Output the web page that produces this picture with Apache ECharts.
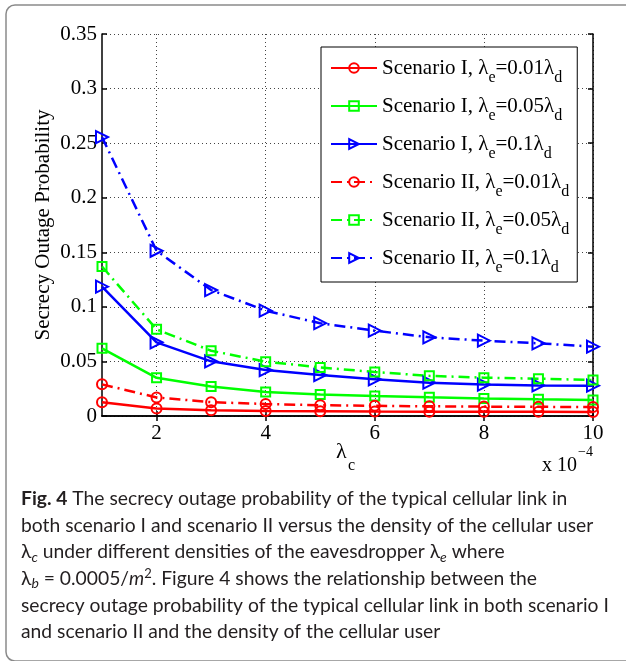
<!DOCTYPE html>
<html>
<head>
<meta charset="utf-8">
<script src="https://cdn.jsdelivr.net/npm/echarts@6/dist/echarts.min.js"></script>
<style>
  html, body { margin: 0; padding: 0; background: #fff; }
  #chart { width: 626px; height: 661px; }
</style>
</head>
<body>
<div id="chart"></div>
<script>
// Density of cellular users (x 10^-4)
const lambdaC = [1, 2, 3, 4, 5, 6, 7, 8, 9, 10];

// Secrecy outage probability, scenario I
const s1_e001 = [0.0125, 0.0068, 0.0053, 0.0046, 0.0043, 0.0041, 0.0040, 0.0039, 0.0038, 0.0037];
const s1_e005 = [0.0620, 0.0350, 0.0270, 0.0220, 0.0198, 0.0183, 0.0171, 0.0160, 0.0153, 0.0147];
const s1_e01  = [0.1185, 0.0675, 0.0501, 0.0421, 0.0375, 0.0336, 0.0305, 0.0288, 0.0280, 0.0278];

// Secrecy outage probability, scenario II
const s2_e001 = [0.0290, 0.0170, 0.0127, 0.0110, 0.0099, 0.0093, 0.0089, 0.0086, 0.0084, 0.0082];
const s2_e005 = [0.1370, 0.0794, 0.0598, 0.0498, 0.0445, 0.0403, 0.0368, 0.0351, 0.0342, 0.0330];
const s2_e01  = [0.2556, 0.1514, 0.1154, 0.0965, 0.0850, 0.0782, 0.0721, 0.0690, 0.0666, 0.0635];

// Axis ticks
const xTicks = [2, 4, 6, 8, 10];
const yMin = 0, yMax = 0.35, yStep = 0.05;

// Legend labels (rich text with subscripts)
const legendLabels = [
  'Scenario I, λ{sub|e}=0.01λ{sub|d}',
  'Scenario I, λ{sub|e}=0.05λ{sub|d}',
  'Scenario I, λ{sub|e}=0.1λ{sub|d}',
  'Scenario II, λ{sub|e}=0.01λ{sub|d}',
  'Scenario II, λ{sub|e}=0.05λ{sub|d}',
  'Scenario II, λ{sub|e}=0.1λ{sub|d}'
];
const seriesNames = ['s1a', 's1b', 's1c', 's2a', 's2b', 's2c'];

const RED = '#ff0000', GREEN = '#00ff00', BLUE = '#0000ff';
const SERIF = '"Liberation Serif", "DejaVu Serif", serif';
const SANS = 'Lato, "Open Sans", "Noto Sans", sans-serif';
const DASHDOT = [11, 5, 2, 5];

function makeSeries(name, values, color, symbol, dashed) {
  let size = 10, rotate = 0;
  if (symbol === 'rect') size = 9;
  if (symbol === 'triangle') { size = 12; rotate = -90; }
  return {
    name: name,
    type: 'line',
    data: lambdaC.map((x, i) => [x, values[i]]),
    symbol: symbol,
    symbolSize: size,
    symbolRotate: rotate,
    showAllSymbol: true,
    lineStyle: { color: color, width: 2.5, type: dashed ? DASHDOT : 'solid' },
    itemStyle: { color: 'rgba(255,255,255,0)', borderColor: color, borderWidth: 2 },
    emphasis: { disabled: true },
    silent: true,
    z: 3
  };
}

const series = [
  makeSeries('s1a', s1_e001, RED, 'circle', false),
  makeSeries('s1b', s1_e005, GREEN, 'rect', false),
  makeSeries('s1c', s1_e01, BLUE, 'triangle', false),
  makeSeries('s2a', s2_e001, RED, 'circle', true),
  makeSeries('s2b', s2_e005, GREEN, 'rect', true),
  makeSeries('s2c', s2_e01, BLUE, 'triangle', true)
];

const axisLineStyle = { color: '#000', width: 1.5 };
const gridDots = { type: [1, 3], color: '#444', width: 1 };
const tickLabel = { fontFamily: SERIF, fontSize: 21, color: '#000' };

const captionLines = [
  '{b|Fig. 4} The secrecy outage probability of the typical cellular link in',
  'both scenario I and scenario II versus the density of the cellular user',
  'λ{sub|c} under different densities of the eavesdropper λ{sub|e} where',
  'λ{sub|b} = 0.0005/{it|m}{sup|2}. Figure 4 shows the relationship between the',
  'secrecy outage probability of the typical cellular link in both scenario I',
  'and scenario II and the density of the cellular user'
];
const CAP = 19.3;
const captionRich = {
  b: { fontFamily: SANS, fontSize: CAP, fontWeight: 'bold', fill: '#231f20' },
  sub: { fontFamily: SANS, fontSize: 14, fontStyle: 'italic', fill: '#231f20', padding: [10, 0, 0, 0] },
  sup: { fontFamily: SANS, fontSize: 13, fill: '#231f20', padding: [0, 0, 10, 0] },
  it: { fontFamily: SANS, fontSize: CAP, fontStyle: 'italic', fill: '#231f20' }
};

const graphics = [
  // rounded figure frame
  { type: 'rect', shape: { x: 6, y: 5, width: 640, height: 656, r: 9 },
    style: { fill: 'none', stroke: '#8a8a8a', lineWidth: 1.5 }, z: 0, silent: true },
  // y axis title
  { type: 'text', x: 43, y: 225, rotation: Math.PI / 2,
    style: { text: 'Secrecy Outage Probability', font: '21px ' + SERIF, fill: '#000',
             textAlign: 'center', textVerticalAlign: 'middle' } },
  // x axis title
  { type: 'text', x: 336, y: 452,
    style: { text: 'λ', font: '22px ' + SERIF, fill: '#000', textAlign: 'left', textVerticalAlign: 'middle' } },
  { type: 'text', x: 348, y: 466,
    style: { text: 'c', font: '16px ' + SERIF, fill: '#000', textAlign: 'left', textVerticalAlign: 'middle' } },
  // axis multiplier
  { type: 'text', x: 542, y: 466,
    style: { text: 'x 10', font: '20px ' + SERIF, fill: '#000', textAlign: 'left', textVerticalAlign: 'middle' } },
  { type: 'text', x: 578, y: 452,
    style: { text: '−4', font: '14px ' + SERIF, fill: '#000', textAlign: 'left', textVerticalAlign: 'middle' } }
];
captionLines.forEach((line, i) => {
  graphics.push({
    type: 'text', x: 21, y: 499 + i * 26.6,
    style: { text: line, font: CAP + 'px ' + SANS, fill: '#231f20', textAlign: 'left',
             textVerticalAlign: 'middle', rich: captionRich }
  });
});

const chart = echarts.init(document.getElementById('chart'), null, { renderer: 'canvas' });
chart.setOption({
  animation: false,
  backgroundColor: '#fff',
  grid: { left: 102, top: 34, width: 491, height: 382, containLabel: false },
  legend: {
    orient: 'vertical',
    left: 321, top: 47,
    padding: [3, 8, 6, 9],
    itemGap: 2,
    itemWidth: 46, itemHeight: 12,
    backgroundColor: '#fff',
    borderColor: '#000', borderWidth: 1,
    data: seriesNames,
    selectedMode: false,
    formatter: name => legendLabels[seriesNames.indexOf(name)],
    textStyle: {
      fontFamily: SERIF, fontSize: 21, color: '#000', lineHeight: 36,
      rich: {
        sub: { fontFamily: SERIF, fontSize: 16, color: '#000', lineHeight: 16, padding: [20, 0, 0, 0] }
      }
    }
  },
  xAxis: [
    {
      type: 'value', min: 1, max: 10, position: 'bottom',
      axisLine: { show: true, lineStyle: axisLineStyle },
      axisTick: { show: true, inside: true, length: 5, customValues: xTicks, lineStyle: axisLineStyle },
      axisLabel: { show: true, customValues: xTicks, margin: 7, ...tickLabel },
      splitLine: { show: true, lineStyle: gridDots }
    },
    {
      type: 'value', min: 1, max: 10, position: 'top',
      axisLine: { show: true, lineStyle: axisLineStyle },
      axisTick: { show: true, inside: true, length: 5, customValues: xTicks, lineStyle: axisLineStyle },
      axisLabel: { show: false },
      splitLine: { show: false }
    }
  ],
  yAxis: [
    {
      type: 'value', min: yMin, max: yMax, interval: yStep, position: 'left',
      axisLine: { show: true, lineStyle: axisLineStyle },
      axisTick: { show: true, inside: true, length: 5, lineStyle: axisLineStyle },
      axisLabel: { show: true, margin: 5, ...tickLabel, formatter: v => String(+v.toFixed(2)) },
      splitLine: { show: true, lineStyle: gridDots }
    },
    {
      type: 'value', min: yMin, max: yMax, interval: yStep, position: 'right',
      axisLine: { show: true, lineStyle: axisLineStyle },
      axisTick: { show: true, inside: true, length: 5, lineStyle: axisLineStyle },
      axisLabel: { show: false },
      splitLine: { show: false }
    }
  ],
  series: series,
  graphic: graphics
});
</script>
</body>
</html>
